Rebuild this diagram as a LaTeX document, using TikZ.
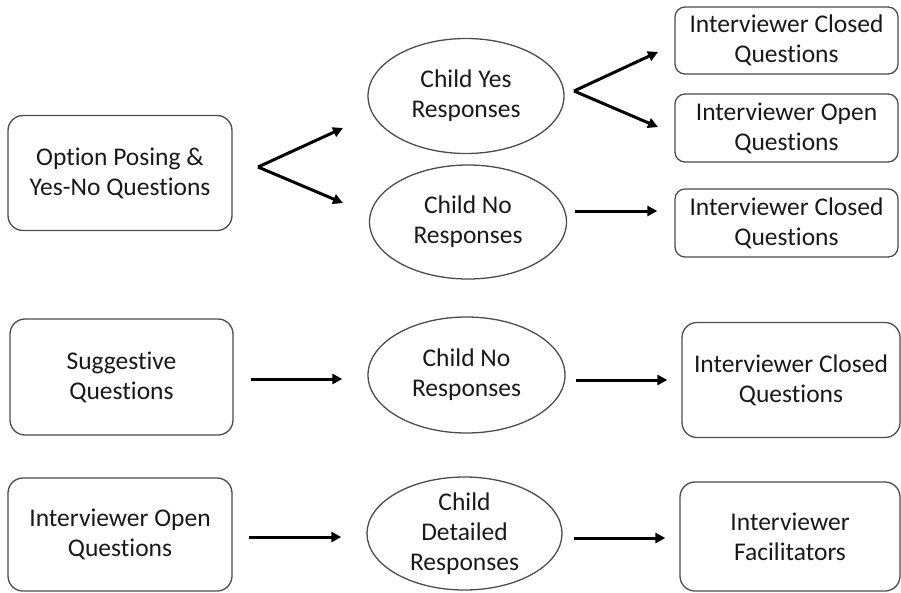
\documentclass[tikz,border=0pt]{standalone}
\usepackage{fontspec}
\setmainfont{Carlito}[Ligatures={NoCommon}]
\usetikzlibrary{shapes.geometric,arrows.meta}
\begin{document}
\begin{tikzpicture}[x=1pt,y=-1pt,
  every node/.style={font=\fontsize{25.5}{30}\selectfont, text=black!90, align=center},
  bigbox/.style={draw=black!70, line width=1.3pt, rounded corners=15pt, inner sep=0pt},
  smallbox/.style={draw=black!70, line width=1.3pt, rounded corners=10pt, inner sep=0pt},
  ell/.style={draw=black!70, line width=1.3pt, ellipse, inner sep=0pt},
  arr/.style={line width=3pt, -{Triangle[length=10pt,width=10pt]}}]
\useasboundingbox (0,0) rectangle (901,592);
% top group
\node[bigbox, minimum width=224pt, minimum height=115pt] (A) at (120,173) {Option Posing \&\\Yes-No Questions};
\node[ell, minimum width=196pt, minimum height=115pt, label={[align=center]center:{Child Yes\\Responses}}] (Yes) at (466,96) {};
\node[ell, minimum width=197pt, minimum height=114pt, label={[align=center]center:{Child No\\Responses}}] (No) at (468,222) {};
\node[smallbox, minimum width=223pt, minimum height=67pt] (IC1) at (786.5,40.5) {Interviewer Closed\\Questions};
\node[smallbox, minimum width=223pt, minimum height=68pt] (IO1) at (786.5,128) {Interviewer Open\\Questions};
\node[smallbox, minimum width=223pt, minimum height=68pt] (IC2) at (786.5,223) {Interviewer Closed\\Questions};
\coordinate (fA) at (258,167);
\coordinate (fAy) at (343,128);
\coordinate (fAn) at (343,203);
\draw[arr] (fA) -- (fAy);
\draw[arr] (fA) -- (fAn);
\coordinate (fY) at (574,91);
\coordinate (fYc) at (658,52);
\coordinate (fYo) at (658,127);
\draw[arr] (fY) -- (fYc);
\draw[arr] (fY) -- (fYo);
\draw[arr] ([shift={(8,-11)}]No.east) -- ([shift={(-17,-12)}]IC2.west);
% middle group
\node[bigbox, minimum width=223pt, minimum height=116pt] (S) at (121.5,377) {Suggestive\\Questions};
\node[ell, minimum width=197pt, minimum height=116pt, label={[align=center]center:{Child No\\Responses}}] (No2) at (466.5,375) {};
\node[bigbox, minimum width=218pt, minimum height=115pt] (IC3) at (791,380) {Interviewer Closed\\Questions};
\draw[arr] ([shift={(17,2)}]S.east) -- ([shift={(-25,4)}]No2.west);
\draw[arr] ([shift={(10,5)}]No2.east) -- ([shift={(-14,0)}]IC3.west);
% bottom group
\node[bigbox, minimum width=224pt, minimum height=113pt] (IO2) at (120,534.5) {Interviewer Open\\Questions};
\node[ell, minimum width=195pt, minimum height=113pt, label={[align=center]center:{Child\\Detailed\\Responses}}] (Det) at (464.5,533.5) {};
\node[bigbox, minimum width=220pt, minimum height=109pt] (Fac) at (790,536.5) {Interviewer\\Facilitators};
\draw[arr] ([shift={(16,2.5)}]IO2.east) -- ([shift={(-25,3.5)}]Det.west);
\draw[arr] ([shift={(11,4.5)}]Det.east) -- ([shift={(-14,1.5)}]Fac.west);
\end{tikzpicture}
\end{document}
